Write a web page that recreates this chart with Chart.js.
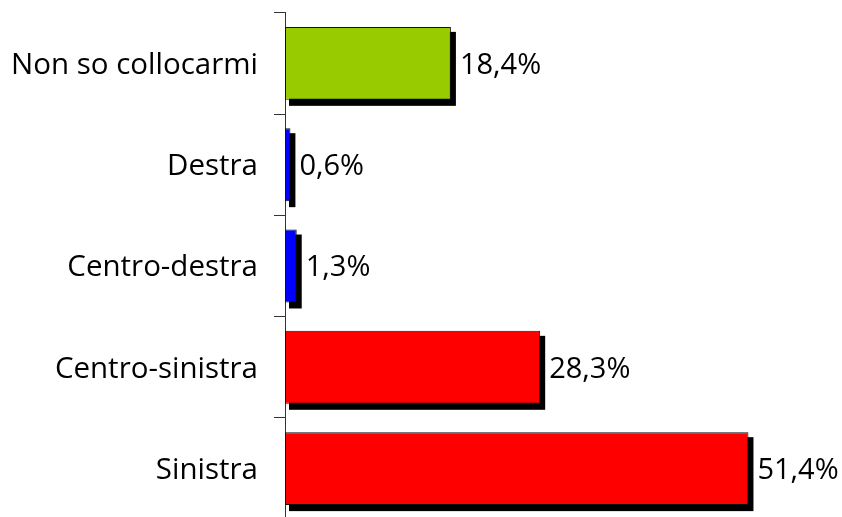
<!DOCTYPE html>
<html>
<head>
<meta charset="utf-8">
<script src="https://cdn.jsdelivr.net/npm/chart.js@4/dist/chart.umd.min.js"></script>
<style>
  html, body { margin: 0; padding: 0; background: #fff; overflow: hidden; width: 842px; height: 517px; }
  canvas { display: block; margin-top: -21px; }
</style>
</head>
<body>
<canvas id="posChart" width="842" height="574"></canvas>
<script>
// data
const categories = ['Non so collocarmi', 'Destra', 'Centro-destra', 'Centro-sinistra', 'Sinistra'];
const percentages = [18.4, 0.6, 1.3, 28.3, 51.4];
const barColors = ['#99CC00', '#0000FF', '#0000FF', '#FF0000', '#FF0000'];

const FONT = '"Open Sans", sans-serif';

// black drop shadow behind each bar (taken from the bar elements)
const shadowPlugin = {
    id: 'barShadow',
    beforeDatasetsDraw(chart) {
        const ctx = chart.ctx;
        const meta = chart.getDatasetMeta(0);
        ctx.save();
        ctx.fillStyle = '#000';
        meta.data.forEach(bar => {
            const h = bar.height;
            ctx.fillRect(bar.base + 4, bar.y - h / 2 + 5, bar.x - bar.base + 1, h + 1);
        });
        ctx.restore();
    }
};

// value labels to the right of the bars
const valueLabels = {
    id: 'valueLabels',
    afterDraw(chart) {
        const ctx = chart.ctx;
        const meta = chart.getDatasetMeta(0);
        ctx.save();
        ctx.font = '29px ' + FONT;
        ctx.fillStyle = '#000';
        ctx.textAlign = 'left';
        ctx.textBaseline = 'middle';
        meta.data.forEach((bar, i) => {
            const txt = percentages[i].toFixed(1).replace('.', ',') + '%';
            ctx.fillText(txt, bar.x + 9, bar.y + 2);
        });
        ctx.restore();
    }
};

const ctx = document.getElementById('posChart').getContext('2d');
new Chart(ctx, {
    type: 'bar',
    data: {
        labels: categories,
        datasets: [{
            data: percentages,
            backgroundColor: barColors,
            borderColor: '#111',
            borderWidth: 1,
            borderSkipped: false,
            barPercentage: 0.72,
            categoryPercentage: 1
        }]
    },
    options: {
        indexAxis: 'y',
        responsive: false,
        animation: false,
        layout: { autoPadding: false, padding: { top: 0, right: 16, bottom: 0, left: 0 } },
        plugins: {
            legend: { display: false },
            tooltip: { enabled: false }
        },
        scales: {
            x: {
                display: false,
                min: 0,
                max: 60
            },
            y: {
                afterFit(scale) { scale.width = 285; },
                grid: {
                    offset: true,
                    drawOnChartArea: false,
                    tickLength: 11,
                    color: '#333',
                    lineWidth: 1
                },
                border: { display: true, color: '#333', width: 1 },
                ticks: {
                    color: '#000',
                    padding: 16,
                    labelOffset: 2,
                    font: { family: FONT, size: 29.5 }
                }
            }
        }
    },
    plugins: [shadowPlugin, valueLabels]
});
</script>
</body>
</html>
